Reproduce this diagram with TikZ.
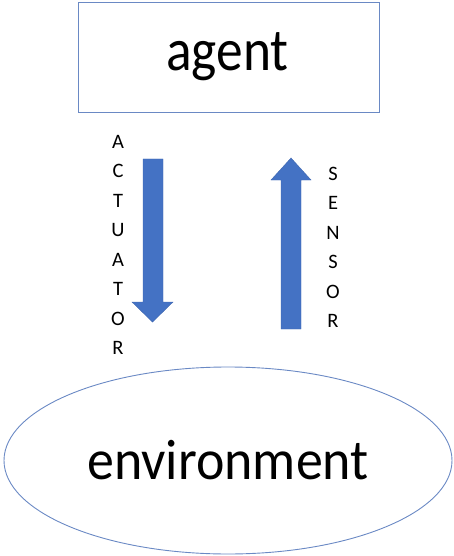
\documentclass[tikz,border=0pt]{standalone}
\usepackage{fontspec}
\setmainfont{Carlito}
\usetikzlibrary{shapes.geometric}
\definecolor{offblue}{HTML}{4472C4}
\definecolor{offline}{HTML}{6A89C4}
\definecolor{arrline}{HTML}{3F67B0}
\begin{document}
\begin{tikzpicture}[x=1pt,y=-1pt,
  box/.style={draw=offline, line width=0.9pt, fill=white, minimum width=301pt, minimum height=110pt, inner sep=0pt},
  oval/.style={ellipse, draw=offline, line width=0.9pt, minimum width=448pt, minimum height=187pt, inner sep=0pt},
  bigtext/.style={font=\fontsize{60}{70}\selectfont, anchor=base, inner sep=0pt},
  letter/.style={font=\fontsize{20.5}{24}\selectfont, anchor=base, inner sep=0pt},
  blockarrow/.style={fill=offblue, draw=arrline, line width=0.4pt}]
\useasboundingbox (0,0) rectangle (453,556);
\node[box] (agentbox) at (228.5,57) {};
\node[bigtext] (agent) at (227.5,70.7) {\scalebox{0.89}[1]{agent}};
\node[oval] (env) at (228,460.5) {};
\node[bigtext, font=\fontsize{57}{66}\selectfont] (envtext) at (228,479.3) {\scalebox{0.946}[1]{environment}};
% down arrow (actuator)
\draw[blockarrow] (143,159) -- (163,159) -- (163,302) -- (173,302) -- (152.5,322) -- (132,302) -- (143,302) -- cycle;
% up arrow (sensor)
\draw[blockarrow] (281,329) -- (301,329) -- (301,180) -- (311,180) -- (291,158) -- (271,180) -- (281,180) -- cycle;
\foreach \l [count=\i from 0] in {A,C,T,U,A,T,O,R}
  \node[letter] (act\i) at (118,148.2+29.5*\i) {\l};
\foreach \l [count=\i from 0] in {S,E,N,S,O,R}
  \node[letter] (sen\i) at (333,180.5+29.4*\i) {\l};
\end{tikzpicture}
\end{document}
